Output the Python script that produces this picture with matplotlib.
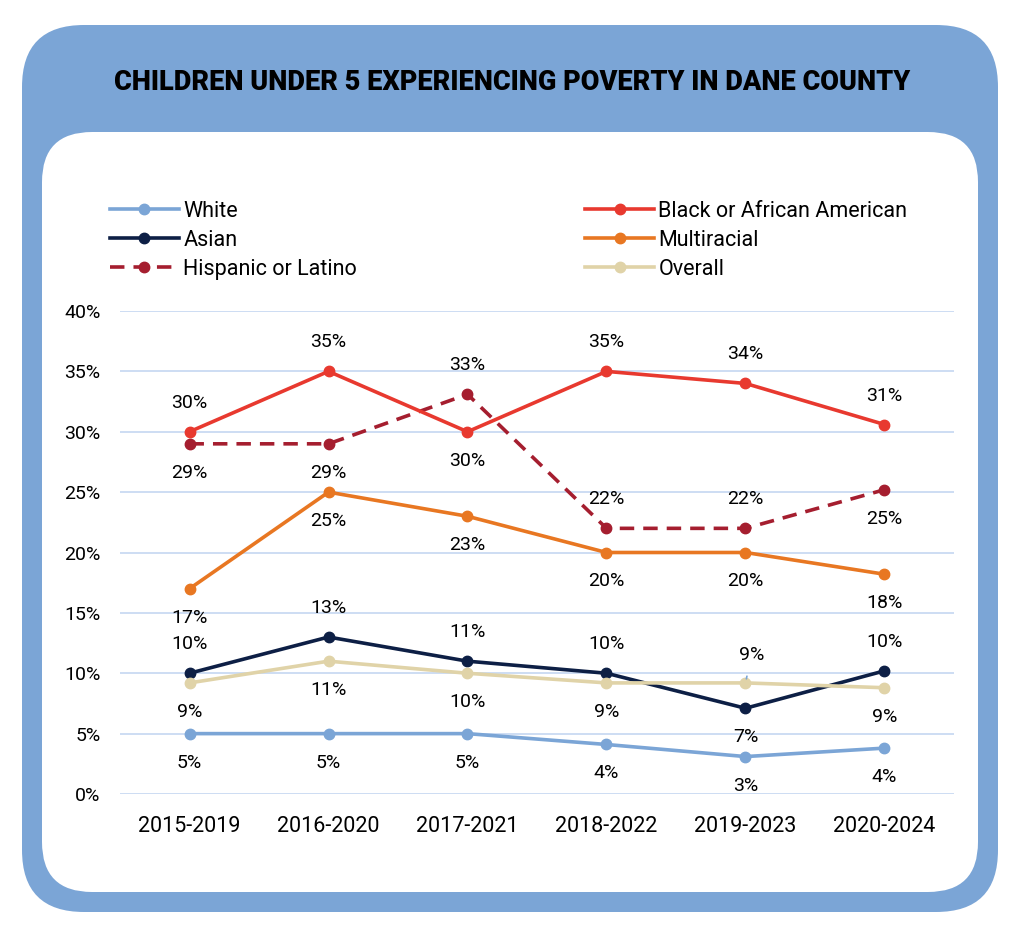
import matplotlib.pyplot as plt
from matplotlib.patches import FancyBboxPatch

plt.rcParams['font.family'] = ['Roboto', 'DejaVu Sans']

# Data
periods = ["2015-2019", "2016-2020", "2017-2021", "2018-2022", "2019-2023", "2020-2024"]
white = [5, 5, 5, 4.1, 3.1, 3.8]
asian = [10, 13, 11, 10, 7.1, 10.2]
hispanic = [29, 29, 33.1, 22, 22, 25.2]
black = [30, 35, 30, 35, 34, 30.6]
multiracial = [17, 25, 23, 20, 20, 18.2]
overall = [9.2, 11, 10, 9.2, 9.2, 8.8]
y_ticks = [0, 5, 10, 15, 20, 25, 30, 35, 40]

# label placement: +1 above, -1 below, 0 = handled separately
white_pos = [-1, -1, -1, -1, -1, -1]
asian_pos = [1, 1, 1, 1, -1, 1]
hispanic_pos = [-1, -1, 1, 1, 1, -1]
black_pos = [1, 1, -1, 1, 1, 1]
multi_pos = [-1, -1, -1, -1, -1, -1]
overall_pos = [-1, -1, -1, -1, 0, -1]

W, H = 1025, 938
fig = plt.figure(figsize=(W / 100, H / 100), dpi=100)

# background frames in pixel coordinates
bg = fig.add_axes([0, 0, 1, 1])
bg.set_xlim(0, W)
bg.set_ylim(H, 0)
bg.axis("off")
bg.add_patch(FancyBboxPatch((22, 25), 976, 887,
                            boxstyle="round,pad=0,rounding_size=62",
                            fc="#7BA5D6", ec="none"))
bg.add_patch(FancyBboxPatch((42, 132), 936, 760,
                            boxstyle="round,pad=0,rounding_size=50",
                            fc="white", ec="none"))
bg.text(W / 2, 82, "CHILDREN UNDER 5 EXPERIENCING POVERTY IN DANE COUNTY",
        ha="center", va="center", fontsize=19.5, fontweight="black",
        family=["Roboto", "DejaVu Sans"], color="black")

ax = fig.add_axes([120 / W, (H - 794) / H, 834 / W, 483 / H])
ax.set_xlim(-0.5, 5.5)
ax.set_ylim(0, 40)
ax.set_yticks(y_ticks)
ax.set_yticklabels([f"{t}%" for t in y_ticks])
ax.set_xticks(range(len(periods)))
ax.set_xticklabels(periods)
ax.tick_params(length=0)
ax.tick_params(axis="x", labelsize=15.5, pad=16)
ax.tick_params(axis="y", labelsize=14, pad=14)
ax.grid(axis="y", color="#C9DAF2", lw=1.3)
ax.set_axisbelow(True)
for s in ax.spines.values():
    s.set_visible(False)

x = list(range(len(periods)))
series = [
    ("White", white, "#7BA5D6", "-", white_pos),
    ("Asian", asian, "#0D1F45", "-", asian_pos),
    ("Hispanic or Latino", hispanic, "#A51E2F", "--", hispanic_pos),
    ("Black or African American", black, "#E8392F", "-", black_pos),
    ("Multiracial", multiracial, "#E87722", "-", multi_pos),
    ("Overall", overall, "#E0D3A8", "-", overall_pos),
]
for name, vals, col, ls, pos in series:
    ax.plot(x, vals, color=col, ls=ls, lw=2.6, marker="o", ms=7.5,
            label=name, dashes=(4, 2.5) if ls == "--" else (None, None))
    for xi, v, p in zip(x, vals, pos):
        if p == 0:
            continue
        ax.annotate(f"{round(v):.0f}%", (xi, v), xytext=(0, 29 * p),
                    textcoords="offset pixels",
                    ha="center", va="center", fontsize=14)

# overall 2019-2023 label with leader line
ax.annotate("9%", (4, overall[4]), xytext=(6, 28), textcoords="offset pixels",
            ha="center", va="center", fontsize=14,
            arrowprops=dict(arrowstyle="-", color="#7BA5D6", lw=1.2,
                            shrinkA=7, shrinkB=3))

leg = fig.legend(loc="upper left", bbox_to_anchor=(110 / W, 1 - 201 / H),
                 ncol=2, frameon=False, fontsize=15.5, handlelength=3.2,
                 columnspacing=10.6, labelspacing=0.37, handletextpad=0.2,
                 borderpad=0, borderaxespad=0)

fig.savefig("out.png", dpi=100)
